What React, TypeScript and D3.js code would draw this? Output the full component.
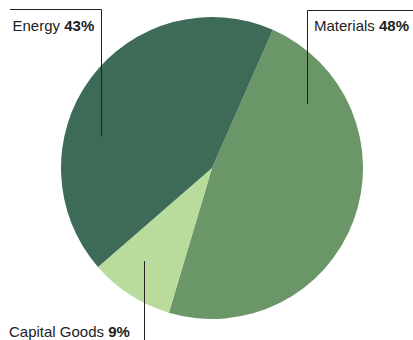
import React from "react";
import * as d3 from "d3";

const categories = ["Materials", "Capital Goods", "Energy"];
const values = [48, 9, 43];
const colors = ["#6b9768", "#b9dc9c", "#3e6b57"];
const startAngleDeg = 23.8;

const W = 413;
const H = 340;
const cx = 212;
const cy = 168;
const R = 151;

export default function App() {
  const pie = d3
    .pie<number>()
    .sort(null)
    .startAngle((startAngleDeg * Math.PI) / 180)
    .endAngle((startAngleDeg * Math.PI) / 180 + 2 * Math.PI)
    .value((d) => d);
  const arcs = pie(values);
  const arc = d3.arc<d3.PieArcDatum<number>>().innerRadius(0).outerRadius(R);

  const rLead = 115;
  const leadEnd = (x: number, sign: number) =>
    cy + sign * Math.sqrt(Math.max(0, rLead * rLead - (x - cx) * (x - cx)));

  const font = "'Liberation Sans', Arial, Helvetica, sans-serif";
  const fs = 15;

  const energyX = 101.5;
  const matX = 307.5;
  const capX = 144.5;

  return (
    <svg
      width={W}
      height={H}
      style={{ position: "absolute", left: 0, top: 0, background: "#fff" }}
      fontFamily={font}
    >
      <g transform={`translate(${cx},${cy})`}>
        {arcs.map((a, i) => (
          <path key={categories[i]} d={arc(a) || ""} fill={colors[i]} />
        ))}
      </g>
      {/* Energy */}
      <path
        d={`M10,9.5 H${energyX} V${leadEnd(energyX, -1)}`}
        fill="none"
        stroke="#222"
        strokeWidth={1}
      />
      <text x={12.5} y={30.5} fontSize={fs} fill="#222">
        {categories[2]} <tspan fontWeight="bold">{values[2]}%</tspan>
      </text>
      {/* Materials */}
      <path
        d={`M${W},10.5 H${matX} V${leadEnd(matX, -1)}`}
        fill="none"
        stroke="#222"
        strokeWidth={1}
      />
      <text x={314} y={30.5} fontSize={fs} fill="#222">
        {categories[0]} <tspan fontWeight="bold">{values[0]}%</tspan>
      </text>
      {/* Capital Goods */}
      <path
        d={`M${capX},${leadEnd(capX, 1)} V${H}`}
        fill="none"
        stroke="#222"
        strokeWidth={1}
      />
      <text x={9} y={336.5} fontSize={fs} fill="#222">
        {categories[1]} <tspan fontWeight="bold">{values[1]}%</tspan>
      </text>
    </svg>
  );
}
